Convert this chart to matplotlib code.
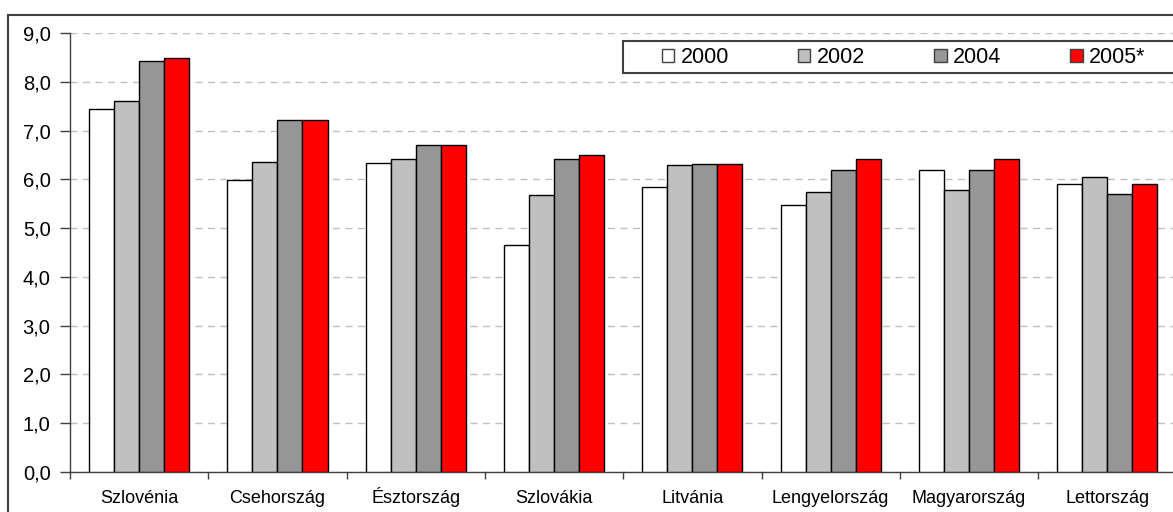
import numpy as np
import matplotlib
matplotlib.use("Agg")
import matplotlib.pyplot as plt
from matplotlib.patches import Rectangle
from matplotlib.lines import Line2D
from matplotlib.ticker import FuncFormatter, FixedLocator

plt.rcParams['font.family'] = ['Liberation Sans', 'DejaVu Sans']

countries = ["Szlovénia", "Csehország", "Észtország", "Szlovákia",
             "Litvánia", "Lengyelország", "Magyarország", "Lettország"]
years = ["2000", "2002", "2004", "2005*"]
v2000 = [7.44, 5.98, 6.33, 4.65, 5.84, 5.47, 6.19, 5.90]
v2002 = [7.61, 6.35, 6.41, 5.68, 6.29, 5.74, 5.78, 6.04]
v2004 = [8.44, 7.21, 6.70, 6.41, 6.31, 6.20, 6.20, 5.70]
v2005 = [8.49, 7.21, 6.70, 6.50, 6.31, 6.41, 6.41, 5.90]
series = [v2000, v2002, v2004, v2005]
colors = ["#FFFFFF", "#C0C0C0", "#969696", "#FF0000"]

W, H = 1173, 512
fig = plt.figure(figsize=(W / 100, H / 100), dpi=100)
ax = fig.add_axes([70 / W, (H - 471.7) / H, 1106.4 / W, (471.7 - 33.3) / H])

x = np.arange(len(countries))
bw = 0.181
for j, (vals, col) in enumerate(zip(series, colors)):
    ax.bar(x + (j - 1.5) * bw, vals, width=bw, color=col,
           edgecolor="#000000", linewidth=1.0, zorder=3, label=years[j])

ax.set_xlim(-0.5, len(countries) - 0.5)
ax.set_ylim(0, 9)
ax.set_yticks(np.arange(0, 9.01, 1.0))
ax.yaxis.set_major_formatter(FuncFormatter(lambda v, p: f"{v:.1f}".replace(".", ",")))
ax.grid(axis="y", color="#C0C0C0", linestyle=(0, (5, 4)), linewidth=1.0, zorder=0)
ax.tick_params(axis="y", direction="out", length=7, width=1, color="#404040",
               labelsize=14.5, pad=7)

# category boundaries as major ticks, names centred as minor ticks
ax.xaxis.set_major_locator(FixedLocator(np.arange(-0.5, len(countries) + 0.5, 1.0)))
ax.xaxis.set_minor_locator(FixedLocator(x))
ax.set_xticklabels([], minor=False)
ax.set_xticklabels(countries, minor=True)
ax.tick_params(axis="x", which="major", direction="out", length=5, width=1, color="#404040")
ax.tick_params(axis="x", which="minor", length=0, labelsize=13, pad=22.5)
for lbl in ax.get_xticklabels(minor=True):
    lbl.set_verticalalignment("baseline")

for s in ["top", "right"]:
    ax.spines[s].set_visible(False)
for s in ["left", "bottom"]:
    ax.spines[s].set_color("#404040")
    ax.spines[s].set_linewidth(1.0)

# legend box and entries
fig.add_artist(Rectangle((622.7 / W, (H - 73.3) / H), (1180 - 622.7) / W, 32.6 / H,
                         transform=fig.transFigure, facecolor="white",
                         edgecolor="#404040", linewidth=1.5, zorder=5, clip_on=False))
leg_handles = [Rectangle((0, 0), 1, 1, facecolor=c, edgecolor="#404040", linewidth=1.0)
               for c in colors]
fig.legend(leg_handles, years, ncol=4, frameon=False, loc="center left",
           bbox_to_anchor=(651 / W, (H - 57.5) / H), borderpad=0,
           fontsize=15.5, handlelength=0.58, handleheight=0.58,
           handletextpad=0.3, columnspacing=3.2).set_zorder(6)

# outer chart frame
fig.add_artist(Line2D([8.3 / W, 8.3 / W], [0, (H - 15) / H], transform=fig.transFigure,
                      color="#404040", linewidth=1.5))
fig.add_artist(Line2D([8.3 / W, 1.0], [(H - 15) / H, (H - 15) / H], transform=fig.transFigure,
                      color="#404040", linewidth=1.5))

fig.savefig("out.png", dpi=100)
